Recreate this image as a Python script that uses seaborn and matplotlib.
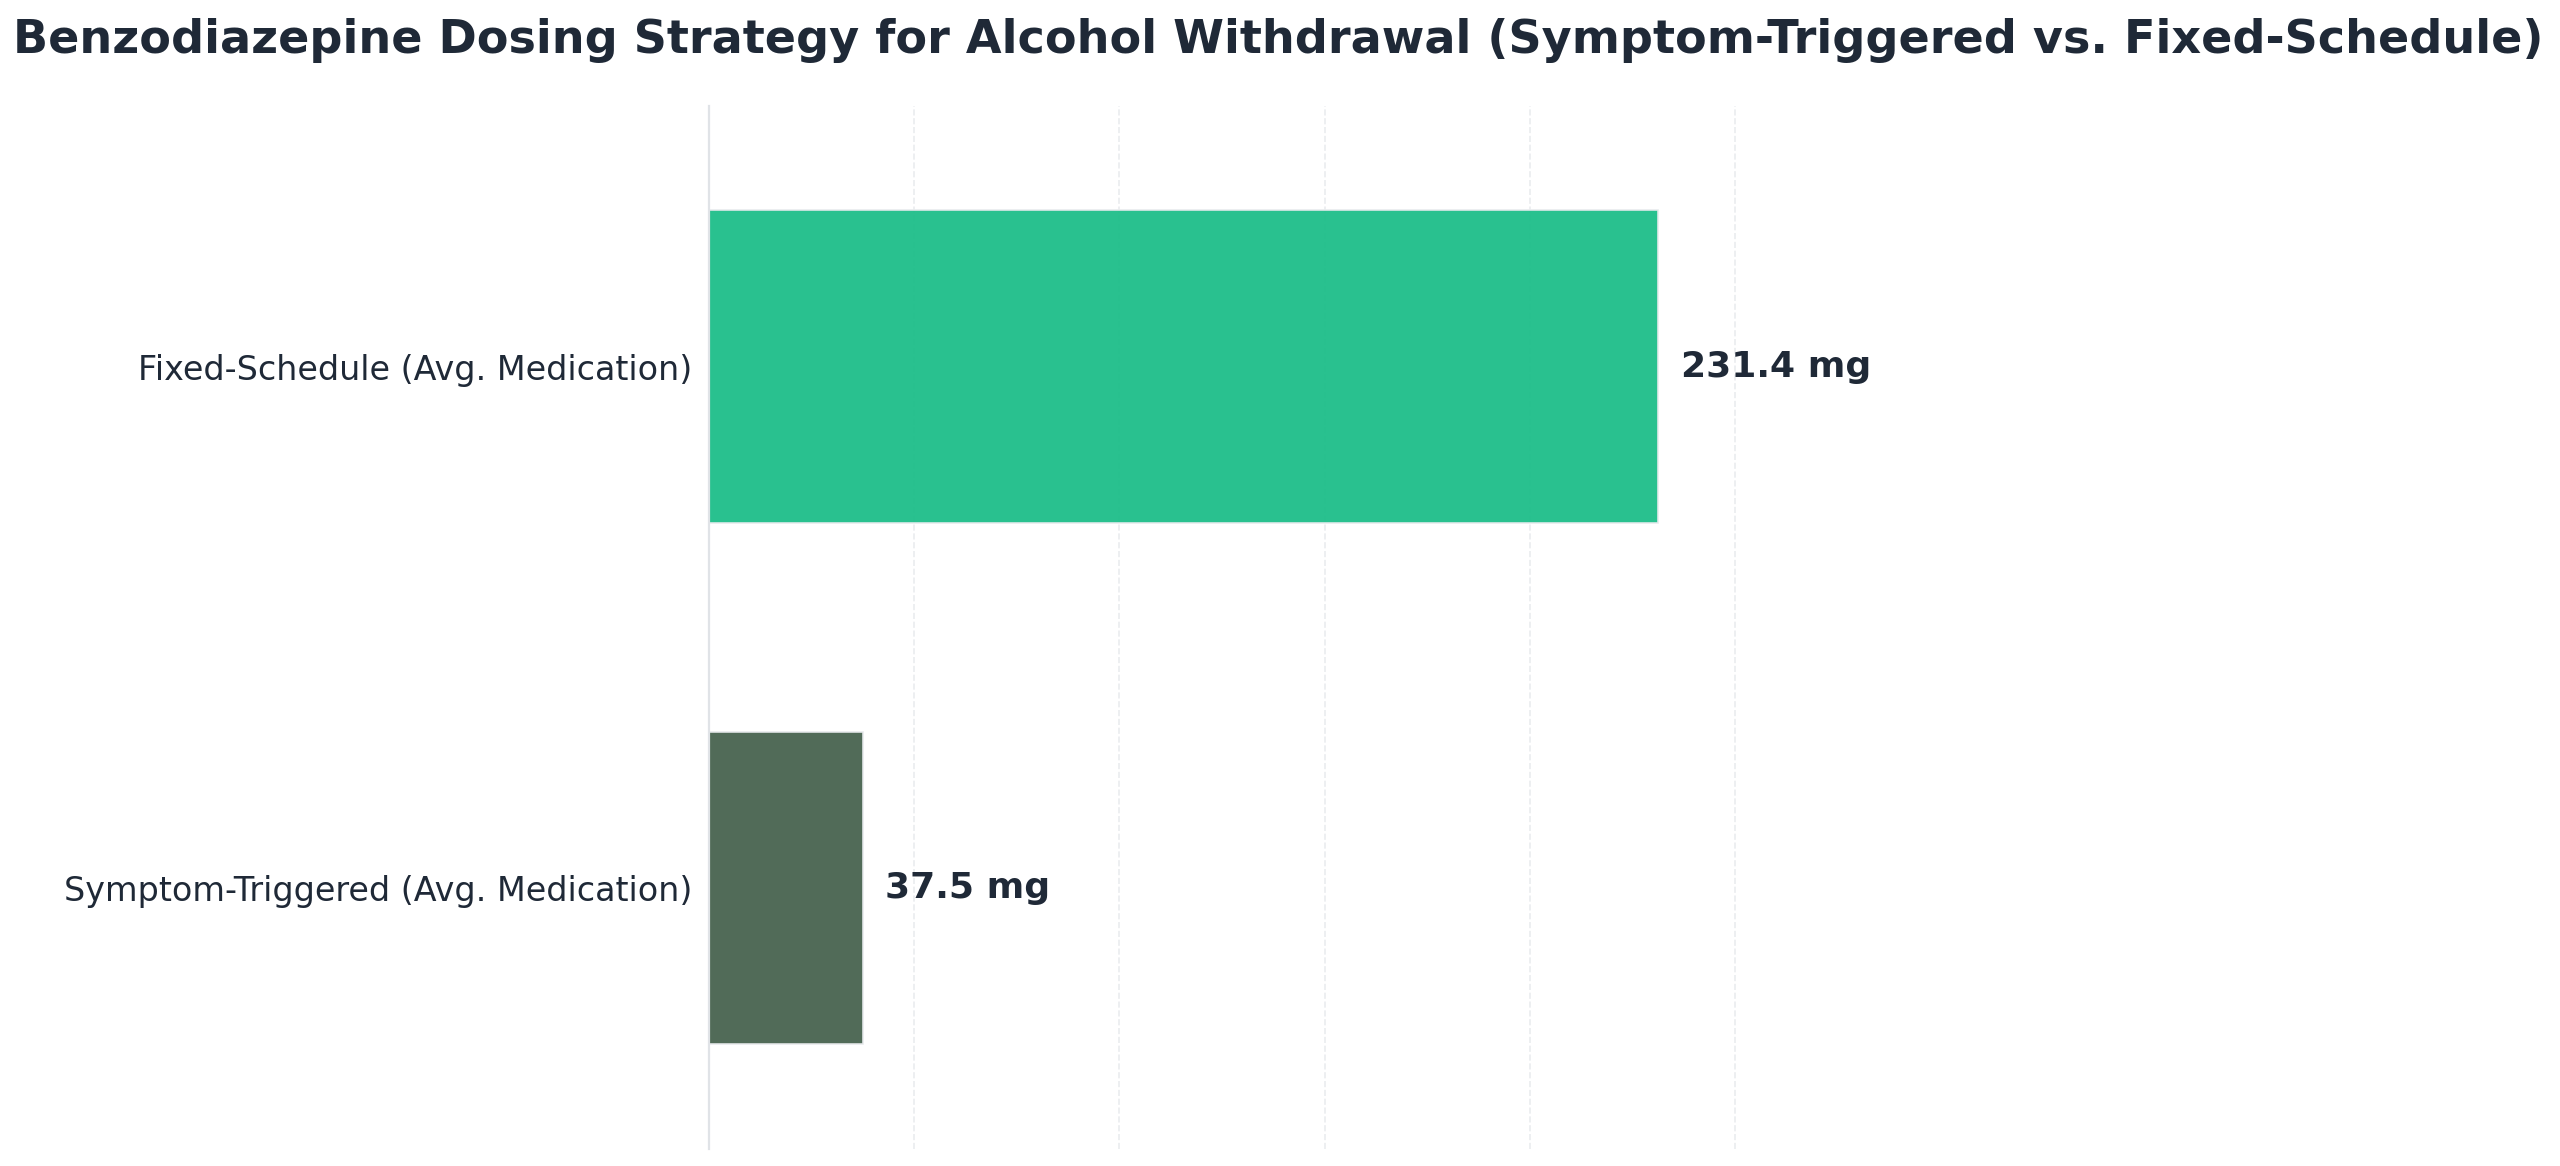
import matplotlib
matplotlib.use('Agg')
import matplotlib.pyplot as plt
import pandas as pd
import seaborn as sns

# Chart data
strategies = ['Fixed-Schedule (Avg. Medication)', 'Symptom-Triggered (Avg. Medication)']
doses_mg = [231.4, 37.5]
bar_colors = ['#1DBE89', '#48634F']

TEXT_COLOR = '#1F2937'

df = pd.DataFrame({'Strategy': strategies, 'Dose': doses_mg})

sns.set_theme(style='white')
plt.rcParams['font.family'] = ['DejaVu Sans']

fig, ax = plt.subplots(figsize=(12.8, 5.83), dpi=200)

sns.barplot(data=df, x='Dose', y='Strategy', hue='Strategy', palette=bar_colors,
            legend=False, ax=ax, width=0.6, alpha=0.95, saturation=1,
            edgecolor='#e8eaed', linewidth=0.6)

# Value labels at bar ends
for bar, val in zip(ax.patches, doses_mg):
    ax.annotate(f'{val:.1f} mg',
                xy=(bar.get_width(), bar.get_y() + bar.get_height() / 2),
                xytext=(8, 0), textcoords='offset points',
                ha='left', va='center', fontsize=13, fontweight='bold',
                color=TEXT_COLOR)

ax.set_xlim(0, max(doses_mg) * 1.2)
ax.set_title('Benzodiazepine Dosing Strategy for Alcohol Withdrawal '
             '(Symptom-Triggered vs. Fixed-Schedule)',
             fontsize=16.6, fontweight='bold', color=TEXT_COLOR, pad=19)
ax.set_xlabel('')
ax.set_ylabel('')

ax.xaxis.grid(True, linestyle='--', linewidth=0.6, color='#e5e7eb', alpha=0.8)
ax.yaxis.grid(False)
ax.set_xticklabels([])
ax.tick_params(axis='x', length=0)
ax.tick_params(axis='y', length=3, width=0.6, color='#6b7280',
               labelsize=12, labelcolor=TEXT_COLOR, pad=3)

for side in ['top', 'right', 'bottom']:
    ax.spines[side].set_visible(False)
ax.spines['left'].set_color('#e0e3e7')
ax.spines['left'].set_linewidth(0.8)

fig.subplots_adjust(left=0.277, right=0.722, top=0.909, bottom=0.015)
plt.savefig('out.png', dpi=200)
